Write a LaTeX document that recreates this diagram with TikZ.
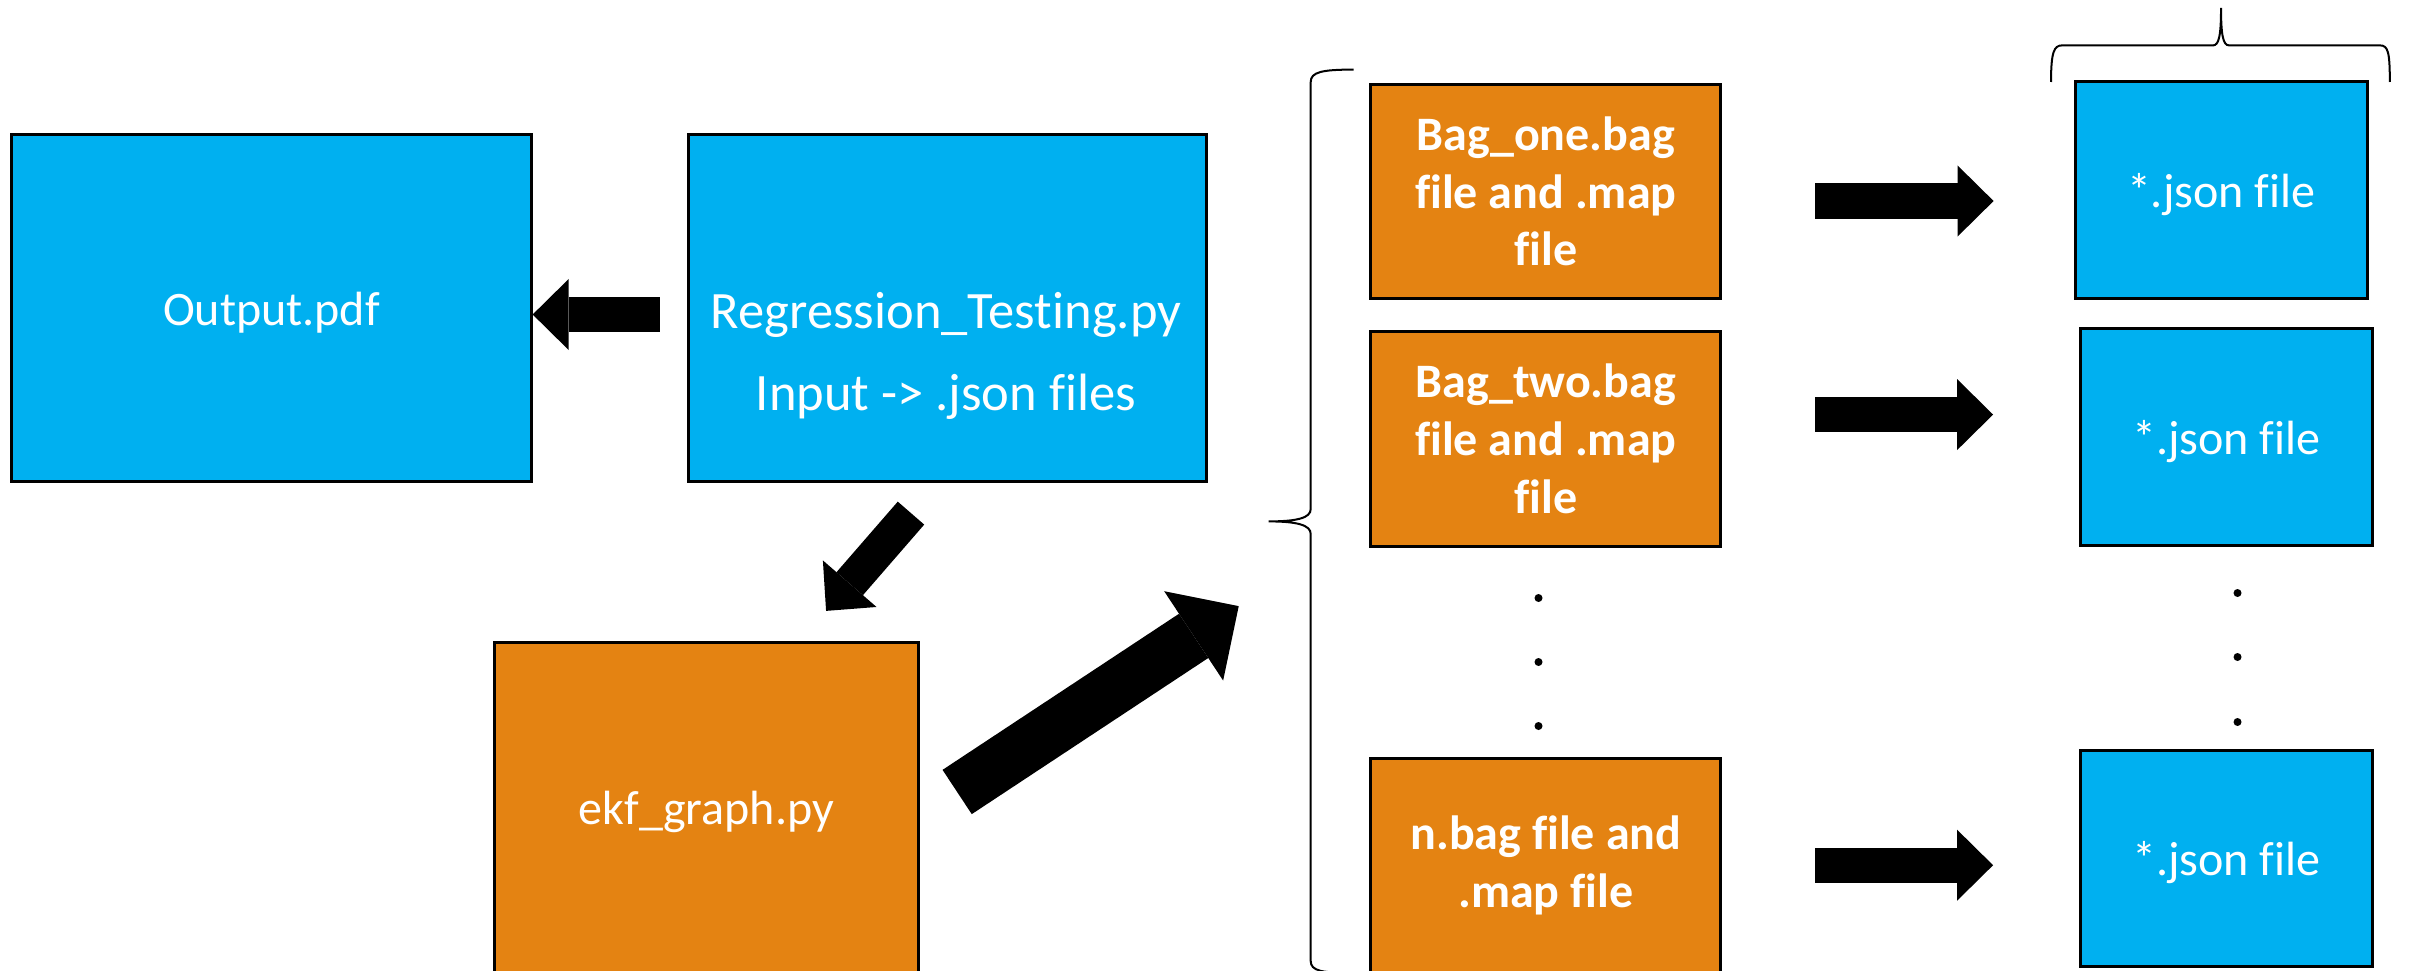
\documentclass[tikz,border=0pt]{standalone}
\usepackage{fontspec}
\setmainfont{Carlito}[Ligatures=NoCommon]
\usetikzlibrary{arrows.meta}
\definecolor{boxblue}{HTML}{00B0F0}
\definecolor{boxorange}{HTML}{E48312}
\begin{document}
\begin{tikzpicture}[x=0.01cm, y=-0.01cm,
  filebox/.style={draw=black, line width=0.03cm, text=white, inner sep=0pt, align=center},
  bluebox/.style={filebox, fill=boxblue},
  orangebox/.style={filebox, fill=boxorange},
  normtext/.style={font=\fontsize{13.66pt}{16.4pt}\selectfont, text height=0.36cm, text depth=0.02cm},
  bagtext/.style={font=\fontsize{13.66pt}{16.4pt}\selectfont\bfseries},
  blockarrow/.style={line width=0.35cm, -{Triangle[length=0.36cm, width=0.71cm, line width=0pt]}},
  bigarrow/.style={line width=0.53cm, -{Triangle[length=0.54cm, width=1.07cm, line width=0pt]}},
  bracket/.style={line width=0.02cm},
  ellipsisdot/.style={circle, fill, inner sep=0pt, minimum size=0.08cm}]
\useasboundingbox (0,0) rectangle (2410,970);
\node[bluebox, normtext, minimum width=5.19cm, minimum height=3.46cm] (out) at (271.5,308){Output.pdf};
\node[bluebox, minimum width=5.17cm, minimum height=3.46cm] (reg) at (947.5,308){};
\node[text=white, align=center, inner sep=0pt, font=\fontsize{14.94pt}{23.5pt}\selectfont] (regtxt) at (946,356){Regression\_Testing.py\\Input -> .json files};
\node[orangebox, normtext, minimum width=4.23cm, minimum height=3.29cm] (ekf) at (706.5,807.5){ekf\_graph.py};
\draw[blockarrow, shorten <=0.275cm] ([yshift=-0.065cm]reg.west) -- ([yshift=-0.065cm]out.east);
\draw[blockarrow] ([xshift=-0.365cm, yshift=-0.305cm]reg.south) -- ([xshift=1.195cm, yshift=0.305cm]ekf.north);
\node[orangebox, bagtext, minimum width=3.50cm, minimum height=2.14cm] (bagone) at (1545.8,191.4){Bag\_one.bag\\file and .map\\file};
\node[orangebox, bagtext, minimum width=3.50cm, minimum height=2.15cm] (bagtwo) at (1545.8,438.9){Bag\_two.bag\\file and .map\\file};
\node[orangebox, bagtext, minimum width=3.50cm, minimum height=2.14cm] (bagn) at (1545.8,865.2){n.bag file and\\.map file};
\draw[bigarrow] ([xshift=0.375cm, yshift=0.155cm]ekf.east) -- ([xshift=-1.304cm, yshift=-1.671cm]bagtwo.west);
\node[ellipsisdot] (bagdot1) at (1538.5,598){};
\node[ellipsisdot] (bagdot2) at (1538.5,662){};
\node[ellipsisdot] (bagdot3) at (1538.5,726){};
\node[bluebox, normtext, minimum width=2.92cm, minimum height=2.16cm] (jsonone) at (2221.2,190){*.json file};
\node[bluebox, normtext, minimum width=2.92cm, minimum height=2.16cm] (jsontwo) at (2226.3,437){*.json file};
\node[bluebox, normtext, minimum width=2.92cm, minimum height=2.16cm] (jsonn) at (2226.3,858.7){*.json file};
\node[ellipsisdot] (jsondot1) at (2237.5,593){};
\node[ellipsisdot] (jsondot2) at (2237.5,657){};
\node[ellipsisdot] (jsondot3) at (2237.5,722){};
\draw[blockarrow, shorten <=0.93cm, shorten >=0.80cm] ([yshift=-0.096cm]bagone.east) -- ([yshift=-0.096cm]bagone.east -| jsonone.west);
\draw[blockarrow, shorten <=0.93cm, shorten >=0.856cm] ([yshift=0.243cm]bagtwo.east) -- ([yshift=0.243cm]bagtwo.east -| jsontwo.west);
\draw[blockarrow, shorten <=0.93cm, shorten >=0.856cm] (bagn.east) -- (bagn.east -| jsonn.west);
\draw[bracket] (1353.5,69.6) .. controls (1322,69.6) and (1310.7,72) .. (1310.7,82) -- (1310.7,509)
  .. controls (1310.7,518) and (1297,521.4) .. (1268.5,521.4)
  .. controls (1297,521.4) and (1310.7,525) .. (1310.7,534) -- (1310.7,961)
  .. controls (1310.7,971) and (1322,973) .. (1353.5,973);
\draw[bracket] (2051,82) .. controls (2051,52) and (2054,45.4) .. (2062,45.4) -- (2213,45.4)
  .. controls (2219,45.4) and (2221,35) .. (2221,7.9)
  .. controls (2221,35) and (2223,45.4) .. (2229,45.4) -- (2380,45.4)
  .. controls (2388,45.4) and (2389.8,52) .. (2389.8,82);
\end{tikzpicture}
\end{document}
